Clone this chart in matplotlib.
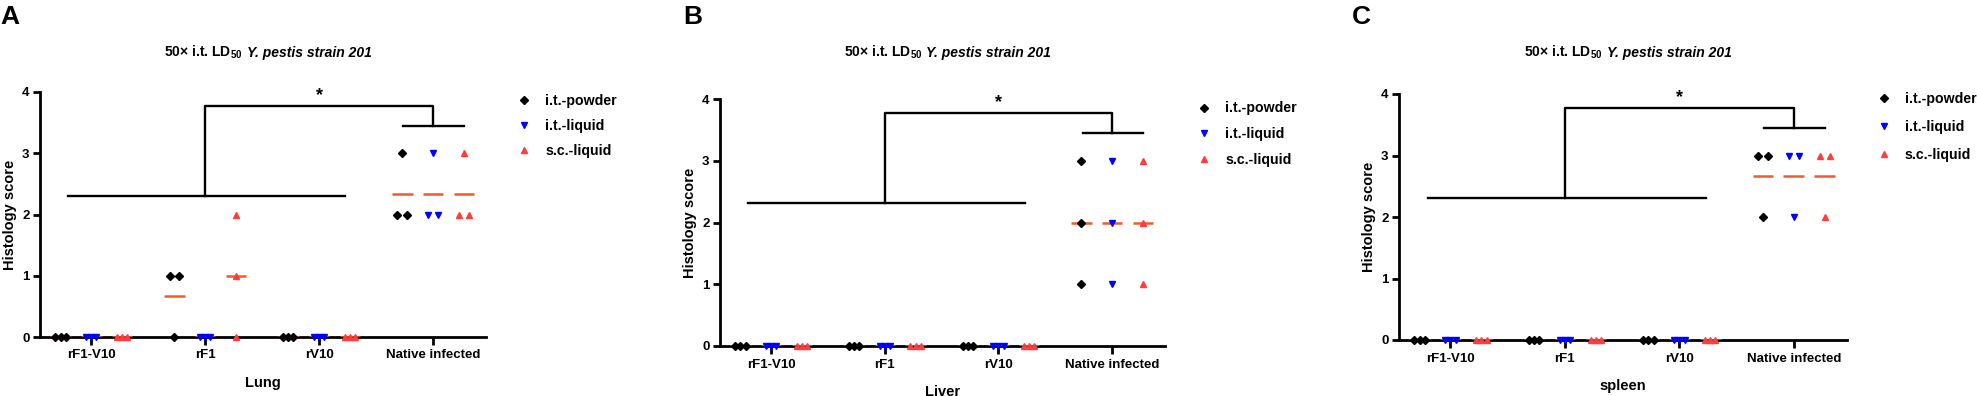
import numpy as np
import matplotlib
matplotlib.use('Agg')
import matplotlib.pyplot as plt
from matplotlib.lines import Line2D

plt.rcParams['font.family'] = ['Liberation Sans', 'DejaVu Sans']
plt.rcParams['font.weight'] = 'bold'
plt.rcParams['mathtext.fontset'] = 'custom'
plt.rcParams['mathtext.rm'] = 'Liberation Sans:bold'
plt.rcParams['mathtext.bf'] = 'Liberation Sans:bold'
plt.rcParams['mathtext.it'] = 'Liberation Sans:bold:italic'

groups = ['rF1-V10', 'rF1', 'rV10', 'Native infected']
series_names = ['i.t.-powder', 'i.t.-liquid', 's.c.-liquid']
tissues = ['Lung', 'Liver', 'spleen']
panel_letters = ['A', 'B', 'C']
title_plain = r'50× i.t. LD$_{50}$'
title_italic = 'Y. pestis strain 201'

# histology scores, 3 mice per vaccine group
lung_powder = [[0, 0, 0], [1, 1, 0], [0, 0, 0], [3, 2, 2]]
lung_it_liquid = [[0, 0, 0], [0, 0, 0], [0, 0, 0], [3, 2, 2]]
lung_sc_liquid = [[0, 0, 0], [2, 1, 0], [0, 0, 0], [3, 2, 2]]

liver_powder = [[0, 0, 0], [0, 0, 0], [0, 0, 0], [3, 2, 1]]
liver_it_liquid = [[0, 0, 0], [0, 0, 0], [0, 0, 0], [3, 2, 1]]
liver_sc_liquid = [[0, 0, 0], [0, 0, 0], [0, 0, 0], [3, 2, 1]]

spleen_powder = [[0, 0, 0], [0, 0, 0], [0, 0, 0], [3, 3, 2]]
spleen_it_liquid = [[0, 0, 0], [0, 0, 0], [0, 0, 0], [3, 3, 2]]
spleen_sc_liquid = [[0, 0, 0], [0, 0, 0], [0, 0, 0], [3, 3, 2]]

panel_data = [
    [lung_powder, lung_it_liquid, lung_sc_liquid],
    [liver_powder, liver_it_liquid, liver_sc_liquid],
    [spleen_powder, spleen_it_liquid, spleen_sc_liquid],
]

markers = ['D', 'v', '^']
marker_sizes = [4.2, 4.9, 4.9]
colors = ['black', '#0000ff', '#ff3d3d']
mean_color = '#f25a2c'
offsets = [-0.27, 0.0, 0.27]

W, H = 1977, 396
fig = plt.figure(figsize=(W / 100, H / 100), dpi=100)
renderer = fig.canvas.get_renderer()

# axes boxes in pixels: left, bottom(y of 0), right, top(y of 4)
boxes = [(40, 337, 486, 92), (720, 346, 1165, 99), (1399, 340, 1847, 94)]
letter_x = [0, 683, 1352]
legend_pos = [(1.069, 0.99, 0.75), (1.072, 0.99, 0.82), (1.066, 1.01, 1.02)]


def spread(vals):
    # side-by-side placement of tied scores
    vals = np.asarray(vals, dtype=float)
    dx = np.zeros(len(vals))
    for v in np.unique(vals):
        idx = np.where(vals == v)[0]
        k = len(idx)
        step = 0.085 if k == 2 else 0.045
        dx[idx] = (np.arange(k) - (k - 1) / 2) * step
    return dx


for p in range(3):
    x0, yb, x1, yt = boxes[p]
    ax = fig.add_axes([x0 / W, (H - yb) / H, (x1 - x0) / W, (yb - yt) / H])

    for s in range(3):
        for g, vals in enumerate(panel_data[p][s]):
            xc = g + offsets[s]
            ax.hlines(np.mean(vals), xc - 0.09, xc + 0.09, color=mean_color, lw=1.8, zorder=3)
            ax.plot(xc + spread(vals), vals, ls='none', marker=markers[s],
                    ms=marker_sizes[s], color=colors[s], mec=colors[s],
                    clip_on=False, zorder=5)

    # significance bracket
    blw = 1.7
    ax.plot([-0.2, 2.23], [2.31, 2.31], color='black', lw=blw, clip_on=False)
    ax.plot([1.0, 1.0, 3.0, 3.0], [2.31, 3.77, 3.77, 3.45], color='black', lw=blw, clip_on=False)
    ax.plot([2.74, 3.27], [3.45, 3.45], color='black', lw=blw, clip_on=False)
    ax.text(2.0, 3.8, '*', ha='center', va='bottom', fontsize=13)

    ax.set_xlim(-0.45, 3.465)
    ax.set_ylim(0, 4)
    ax.set_xticks(range(len(groups)))
    ax.set_xticklabels(groups, fontsize=9.5)
    ax.set_yticks(range(5))
    ax.tick_params(axis='x', length=5.5, width=2, pad=3.5)
    ax.tick_params(axis='y', length=5, width=2, pad=2.5, labelsize=9.5)
    for side in ['top', 'right']:
        ax.spines[side].set_visible(False)
    for side in ['left', 'bottom']:
        ax.spines[side].set_linewidth(2)

    pw, ph = x1 - x0, yb - yt
    ax.text(-30 / pw, 0.5, 'Histology score', rotation=90, ha='center', va='center',
            fontsize=10.5, transform=ax.transAxes)
    ax.text(0.5, -46 / ph, tissues[p], ha='center', va='center', fontsize=10.5,
            transform=ax.transAxes)

    # title: bold part + bold italic part, centred together
    ty = 1 - 57 / H
    t1 = fig.text(0, ty, title_plain, ha='left', va='baseline', fontsize=10)
    t2 = fig.text(0, ty, title_italic, ha='left', va='baseline', fontsize=10, style='italic')
    w1 = t1.get_window_extent(renderer).width
    w2 = t2.get_window_extent(renderer).width
    gap = 4
    start = (x0 + x1) / 2 + 5 - (w1 + gap + w2) / 2
    t1.set_x(start / W)
    t2.set_x((start + w1 + gap) / W)

    fig.text(letter_x[p] / W, 1 - 5 / H, panel_letters[p], ha='left', va='top',
             fontsize=19, fontweight='bold')

    handles = [Line2D([], [], ls='none', marker=markers[s], ms=marker_sizes[s],
                      color=colors[s]) for s in range(3)]
    lx, ly, lsp = legend_pos[p]
    ax.legend(handles, series_names, loc='upper left', bbox_to_anchor=(lx, ly),
              frameon=False, handlelength=1.0, handletextpad=1.0, labelspacing=lsp,
              borderpad=0, borderaxespad=0, prop={'size': 10.2, 'weight': 'bold'})

fig.savefig('out.png', dpi=100)
